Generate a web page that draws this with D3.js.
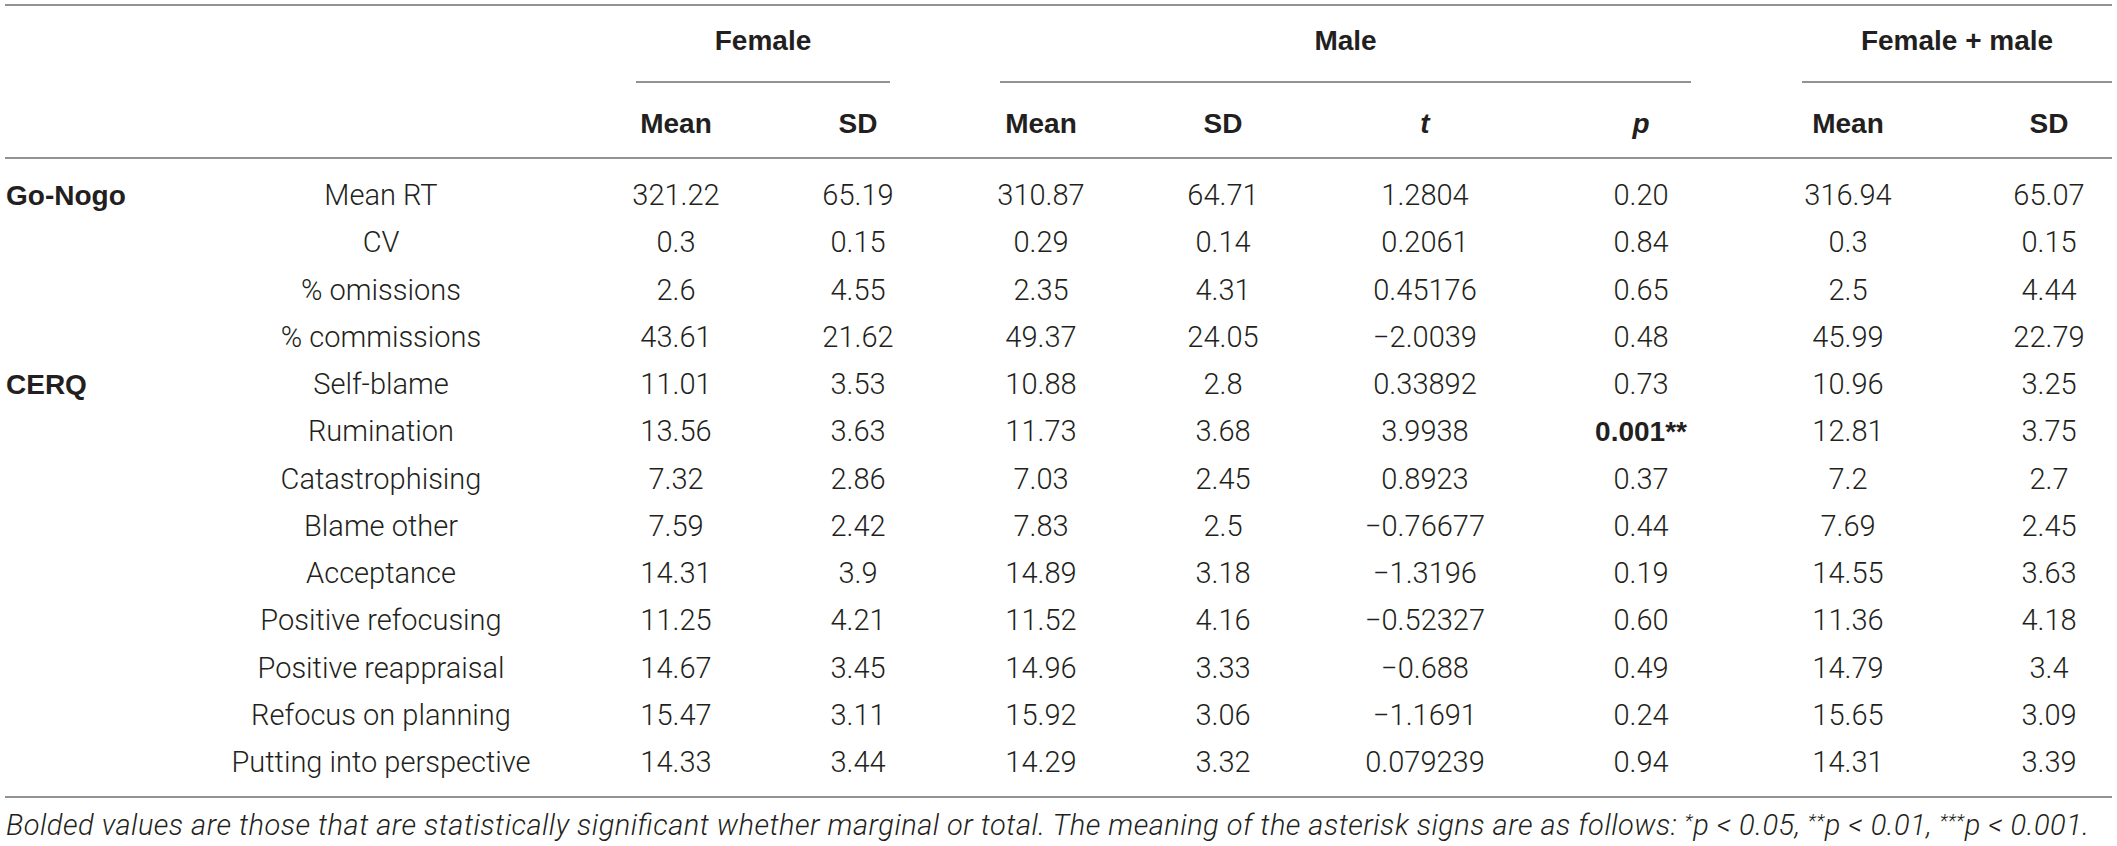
<!DOCTYPE html>
<html>
<head>
<meta charset="utf-8">
<script src="https://cdn.jsdelivr.net/npm/d3@7"></script>
<style>
  body { margin: 0; background: #fff; }
  svg text { font-family: Roboto, "Liberation Sans", sans-serif; fill: #231f20; }
  .light { font-weight: 300; }
  .bold { font-family: "Liberation Sans", Arial, sans-serif; font-weight: 700; }
</style>
</head>
<body>
<div class="svg-container"></div>
<script>
var W = 2117, H = 846;

// table content
var sections = ["Go-Nogo", "", "", "", "CERQ", "", "", "", "", "", "", "", ""];
var measures = ["Mean RT", "CV", "% omissions", "% commissions", "Self-blame", "Rumination",
    "Catastrophising", "Blame other", "Acceptance", "Positive refocusing",
    "Positive reappraisal", "Refocus on planning", "Putting into perspective"];
var femaleMean = ["321.22", "0.3", "2.6", "43.61", "11.01", "13.56", "7.32", "7.59", "14.31", "11.25", "14.67", "15.47", "14.33"];
var femaleSD = ["65.19", "0.15", "4.55", "21.62", "3.53", "3.63", "2.86", "2.42", "3.9", "4.21", "3.45", "3.11", "3.44"];
var maleMean = ["310.87", "0.29", "2.35", "49.37", "10.88", "11.73", "7.03", "7.83", "14.89", "11.52", "14.96", "15.92", "14.29"];
var maleSD = ["64.71", "0.14", "4.31", "24.05", "2.8", "3.68", "2.45", "2.5", "3.18", "4.16", "3.33", "3.06", "3.32"];
var tValues = ["1.2804", "0.2061", "0.45176", "\u22122.0039", "0.33892", "3.9938", "0.8923", "\u22120.76677", "\u22121.3196", "\u22120.52327", "\u22120.688", "\u22121.1691", "0.079239"];
var pValues = ["0.20", "0.84", "0.65", "0.48", "0.73", "0.001**", "0.37", "0.44", "0.19", "0.60", "0.49", "0.24", "0.94"];
var allMean = ["316.94", "0.3", "2.5", "45.99", "10.96", "12.81", "7.2", "7.69", "14.55", "11.36", "14.79", "15.65", "14.31"];
var allSD = ["65.07", "0.15", "4.44", "22.79", "3.25", "3.75", "2.7", "2.45", "3.63", "4.18", "3.4", "3.09", "3.39"];
var significant = [false, false, false, false, false, true, false, false, false, false, false, false, false];

var colHeads = ["Mean", "SD", "Mean", "SD", "t", "p", "Mean", "SD"];
var groupNames = ["Female", "Male", "Female + male"];
var footnote = "Bolded values are those that are statistically significant whether marginal or total. The meaning of the asterisk signs are as follows: ";
var footStars = [["*", "p < 0.05, "], ["**", "p < 0.01, "], ["***", "p < 0.001."]];

var columns = [femaleMean, femaleSD, maleMean, maleSD, tValues, pValues, allMean, allSD];
var colKeys = d3.range(columns.length);

// layout
var colX = d3.scaleOrdinal().domain(colKeys).range([676, 858, 1041, 1223, 1425, 1641, 1848, 2049]);
var rowY = d3.scalePoint().domain(d3.range(measures.length)).range([195, 762]);
var groupSpan = [[636, 890], [1000, 1691], [1802, 2112]];
var fs = 29, capOff = 10;
var labelX = 381, left = 5, right = 2112;

var svg = d3.select(".svg-container").append("svg")
    .attr("width", W).attr("height", H)
    .attr("viewBox", "0 0 " + W + " " + H);

function rule(y, x1, x2) {
    svg.append("line")
        .attr("x1", x1).attr("x2", x2)
        .attr("y1", y).attr("y2", y)
        .attr("stroke", "#6d6e71")
        .attr("stroke-width", 1.6);
}

rule(5, left, right);
rule(158, left, right);
rule(797, left, right);
groupSpan.forEach(function(s) { rule(82, s[0], s[1]); });

// group headers
svg.selectAll(".group")
    .data(groupNames)
    .enter().append("text")
    .attr("class", "group bold")
    .attr("x", function(d, i) { return (groupSpan[i][0] + groupSpan[i][1]) / 2; })
    .attr("y", 40 + capOff)
    .attr("text-anchor", "middle")
    .attr("font-size", 28)
    .text(function(d) { return d; });

// column headers
svg.selectAll(".colhead")
    .data(colHeads)
    .enter().append("text")
    .attr("class", "colhead bold")
    .attr("x", function(d, i) { return colX(i); })
    .attr("y", 123 + capOff)
    .attr("text-anchor", "middle")
    .attr("font-size", 28)
    .attr("font-style", function(d) { return (d == "t" || d == "p") ? "italic" : null; })
    .text(function(d) { return d; });

// section labels
svg.selectAll(".section")
    .data(sections)
    .enter().append("text")
    .attr("class", "section bold")
    .attr("x", 6)
    .attr("y", function(d, i) { return rowY(i) + capOff; })
    .attr("font-size", 28)
    .text(function(d) { return d; });

// measure labels
svg.selectAll(".measure")
    .data(measures)
    .enter().append("text")
    .attr("class", "measure light")
    .attr("x", labelX)
    .attr("y", function(d, i) { return rowY(i) + capOff; })
    .attr("text-anchor", "middle")
    .attr("font-size", fs)
    .text(function(d) { return d; });

// values
var cols = svg.selectAll(".col")
    .data(columns)
    .enter().append("g")
    .attr("class", "col");

cols.each(function(col, ci) {
    d3.select(this).selectAll("text")
        .data(col)
        .enter().append("text")
        .attr("class", function(d, ri) { return (ci == 5 && significant[ri]) ? "bold" : "light"; })
        .attr("x", colX(ci))
        .attr("y", function(d, ri) { return rowY(ri) + capOff; })
        .attr("text-anchor", "middle")
        .attr("font-size", function(d, ri) { return (ci == 5 && significant[ri]) ? 28 : fs; })
        .text(function(d) { return d; });
});

// footnote, stretched to the table width
var foot = svg.append("text")
    .attr("class", "light")
    .attr("x", 6)
    .attr("y", 825 + capOff)
    .attr("font-size", fs)
    .attr("font-style", "italic")
    .attr("textLength", 2083)
    .attr("lengthAdjust", "spacing");
foot.append("tspan").text(footnote);
footStars.forEach(function(p) {
    foot.append("tspan").attr("dy", -8).attr("font-size", 19).text(p[0]);
    foot.append("tspan").attr("dy", 8).text(p[1]);
});
</script>
</body>
</html>
